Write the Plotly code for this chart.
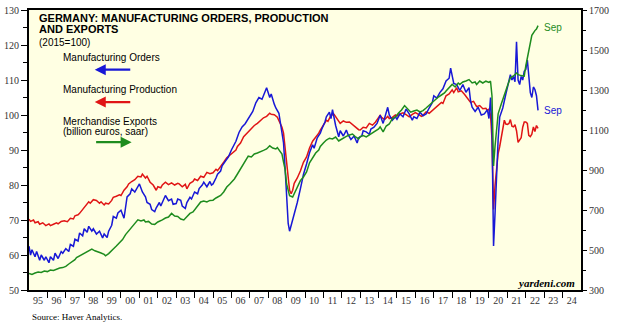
import plotly.graph_objects as go

# ---------------- data ----------------
orders_dates = [
    "1995-01","1995-02","1995-03","1995-05","1995-06","1995-08","1995-09","1995-11","1995-12",
    "1996-02","1996-03","1996-05","1996-06","1996-08","1996-10","1996-11",
    "1997-01","1997-03","1997-04","1997-06","1997-07","1997-09","1997-10","1997-12",
    "1998-01","1998-03","1998-04","1998-06","1998-07","1998-09","1998-11",
    "1999-01","1999-02","1999-04","1999-05","1999-07","1999-08","1999-10","1999-11",
    "2000-01","2000-03","2000-04","2000-05","2000-07","2000-08","2000-10","2000-12",
    "2001-01","2001-03","2001-05","2001-06","2001-08","2001-09","2001-11","2001-12",
    "2002-02","2002-03","2002-05","2002-06","2002-08","2002-10","2002-11",
    "2003-01","2003-02","2003-04","2003-05","2003-07","2003-08","2003-10","2003-11",
    "2004-01","2004-03","2004-04","2004-06","2004-07","2004-09","2004-11","2004-12",
    "2005-01","2005-03","2005-04","2005-06","2005-07","2005-09","2005-11",
    "2006-01","2006-02","2006-04","2006-06","2006-08","2006-10","2006-12",
    "2007-01","2007-03","2007-05","2007-07","2007-09","2007-11","2007-12",
    "2008-02","2008-03","2008-05","2008-06","2008-08","2008-09","2008-10","2008-11","2008-12",
    "2009-01","2009-02","2009-03","2009-04","2009-05","2009-07","2009-08","2009-10","2009-12",
    "2010-02","2010-04","2010-06","2010-07","2010-09","2010-11","2010-12",
    "2011-02","2011-03","2011-05","2011-06","2011-07","2011-09","2011-11","2011-12",
    "2012-02","2012-04","2012-05","2012-07","2012-09","2012-11","2012-12",
    "2013-02","2013-03","2013-05","2013-07","2013-08","2013-10","2013-12",
    "2014-02","2014-04","2014-05","2014-07","2014-08","2014-10","2014-12",
    "2015-01","2015-03","2015-05","2015-07","2015-09","2015-11","2015-12",
    "2016-02","2016-04","2016-06","2016-08","2016-10","2016-12",
    "2017-01","2017-03","2017-05","2017-07","2017-09","2017-11","2017-12",
    "2018-01","2018-02","2018-04","2018-06","2018-08","2018-10","2018-12",
    "2019-01","2019-02","2019-04","2019-06","2019-08","2019-10","2019-12",
    "2020-01","2020-02","2020-03","2020-04","2020-05","2020-06","2020-07","2020-08","2020-10","2020-12",
    "2021-01","2021-03","2021-04","2021-05","2021-06","2021-07","2021-08","2021-09","2021-10","2021-11","2021-12",
    "2022-01","2022-02","2022-03","2022-04","2022-05","2022-06","2022-07","2022-08","2022-09"]
orders_vals = [
    62.5,60,61.5,59.5,61,58.5,60,58.5,59.5,
    57.8,59.5,58.5,60.5,59,61,60.5,
    61.8,61,63,62.5,64.5,64,66.3,65.5,
    67.5,66.5,68.2,66.8,67.5,66,66.8,
    64.9,66,65,66.8,68.5,71,70.5,72,
    72.8,70.5,74,76.6,77.5,78.9,78,79.5,
    80.3,78,76.6,75,74.5,73,72.4,73.5,
    75,74,76,77,75.5,76,74.5,
    74.7,76,75.6,74,73.3,75,76.5,76,
    78,77.5,79,80,80.8,79.5,81,80,
    80.3,82,83.1,84,85.5,86.8,88,
    90,91,92.5,95,96.6,97.5,99,
    99.4,101,103.5,105,104.5,106.5,107.8,
    105,106,103.1,102,100.5,97.6,95,92,85,
    75,69,66.8,68.5,69.6,73,75,78.9,83,
    86,89.2,91.5,90.5,93.5,94.8,96,
    98,99.5,100.8,99,101.5,97,93.8,95.5,
    94,95.7,94.5,93,94,92,93.5,
    94,95.5,95.2,94.5,96,96.5,97.6,
    99.9,97.6,99,102.2,100,98.5,99.5,
    98.8,100.3,99.5,101.7,100.3,98.5,99.5,
    99,100.8,99.8,100.3,102,103.5,
    105.5,104.8,106.4,107.5,109.7,110.5,113.4,
    111,109,108.7,107,108.7,106.5,107.8,
    104,102.2,101,102.2,100,100.3,101.5,
    99,105,96,62.6,72,85.4,93,99.4,102,106,
    108,111.5,110,111,109.5,120.9,110,108.7,111,110,112.5,
    113,115.7,111,106.4,105,108,107.3,105.5,101.3]

prod_dates = [
    "1995-01","1995-02","1995-04","1995-05","1995-07","1995-08","1995-10","1995-12",
    "1996-02","1996-03","1996-05","1996-07","1996-08","1996-10","1996-12",
    "1997-02","1997-04","1997-06","1997-07","1997-09","1997-10","1997-12",
    "1998-02","1998-04","1998-05","1998-07","1998-09","1998-11","1998-12",
    "1999-02","1999-03","1999-05","1999-07","1999-08","1999-10","1999-12",
    "2000-01","2000-03","2000-05","2000-06","2000-08","2000-10","2000-12",
    "2001-02","2001-03","2001-05","2001-06","2001-08","2001-10","2001-12",
    "2002-01","2002-03","2002-04","2002-06","2002-08","2002-10","2002-12",
    "2003-02","2003-03","2003-05","2003-07","2003-08","2003-10","2003-12",
    "2004-01","2004-03","2004-05","2004-07","2004-09","2004-11",
    "2005-01","2005-03","2005-04","2005-06","2005-08","2005-10","2005-12",
    "2006-02","2006-04","2006-05","2006-07","2006-09","2006-11",
    "2007-01","2007-03","2007-04","2007-06","2007-08","2007-10","2007-12",
    "2008-02","2008-03","2008-05","2008-07","2008-08","2008-09","2008-10","2008-11","2008-12",
    "2009-01","2009-02","2009-03","2009-04","2009-05","2009-06","2009-08","2009-10","2009-12",
    "2010-02","2010-04","2010-06","2010-08","2010-10","2010-11",
    "2011-01","2011-03","2011-04","2011-06","2011-08","2011-10","2011-12",
    "2012-02","2012-04","2012-06","2012-08","2012-10","2012-12",
    "2013-01","2013-03","2013-05","2013-07","2013-09","2013-11",
    "2014-02","2014-03","2014-05","2014-07","2014-08","2014-10","2014-12",
    "2015-01","2015-03","2015-05","2015-07","2015-09","2015-11",
    "2016-01","2016-03","2016-05","2016-06","2016-08","2016-10","2016-12",
    "2017-02","2017-04","2017-06","2017-07","2017-09","2017-11",
    "2018-01","2018-02","2018-04","2018-05","2018-07","2018-09","2018-11",
    "2019-01","2019-03","2019-05","2019-07","2019-09","2019-11","2019-12",
    "2020-01","2020-02","2020-03","2020-04","2020-05","2020-06","2020-07","2020-08","2020-10","2020-11","2020-12",
    "2021-01","2021-02","2021-03","2021-04","2021-05","2021-06","2021-07","2021-08","2021-09","2021-10","2021-11","2021-12",
    "2022-01","2022-02","2022-03","2022-04","2022-05","2022-06","2022-07","2022-08","2022-09"]
prod_vals = [
    70.2,69.6,70,69.2,69.5,68.8,69.2,68.4,
    68.9,68.4,68.8,69.2,68.9,69.6,69.8,
    69.5,70.5,70.3,71.2,71.5,71.9,73,
    74.2,75.2,74.8,75.8,75.6,74.8,75.2,
    74.3,74.8,74.6,75.6,76.5,76.8,77.2,
    77,78.5,79.5,80.3,81,81.5,82.5,
    82.3,83.1,82,82.5,80.8,80,78.5,
    79.5,79.2,80,80.8,80.1,80.6,80,
    80.5,80.3,79.5,80.2,78.9,80.5,81,
    81.7,81.3,82.5,82.2,83.6,83.2,
    83.5,84.5,84.1,85.2,86.5,87.8,88.5,
    89.3,90,91,92,93.8,94.8,
    95.5,96.5,97,97.6,98.5,99.2,99.6,
    100.5,100.2,100.1,99.4,98.5,97.8,96.5,94.8,90.5,
    86.4,80.5,78.5,77.5,78.5,80.5,82,84,86.5,
    88,90.6,92.5,93.5,94.8,95.7,
    97,98.5,98.2,99.9,100.2,98.8,97.6,
    98.3,97.9,98,97.2,96.5,95.8,
    95.7,96.5,96.3,97.6,97.1,98,
    99.9,99.3,98.7,99.6,99,99.3,100,
    99.7,100.3,100.6,100.1,99.5,100.2,
    100.7,100.2,99.6,99.9,100.9,100.5,101.3,
    102.2,102.8,103.6,103.3,105.5,106,
    107.2,106.4,107.8,106.6,106.9,105.9,104.8,
    103.6,103.9,102.4,102.7,101.8,101.9,101.3,
    101.7,100,93,73,80,86,89,91,96.5,98.5,97.4,
    97.3,97.6,98.7,96.8,96.6,97.2,95.5,92.2,92.9,93.5,96.5,98,
    98,97.6,94.2,93.8,94.5,96.6,95.3,97,96.2]

exports_dates = [
    "1995-01","1995-03","1995-05","1995-07","1995-09","1995-11",
    "1996-01","1996-03","1996-05","1996-07","1996-09","1996-11",
    "1997-01","1997-03","1997-05","1997-07","1997-08","1997-10","1997-12",
    "1998-02","1998-04","1998-06","1998-08","1998-10","1998-12",
    "1999-02","1999-03","1999-05","1999-07","1999-08","1999-10","1999-12",
    "2000-02","2000-04","2000-06","2000-08","2000-10","2000-12",
    "2001-02","2001-04","2001-05","2001-07","2001-09","2001-11",
    "2002-01","2002-03","2002-04","2002-06","2002-08","2002-10","2002-12",
    "2003-02","2003-04","2003-06","2003-08","2003-10","2003-12",
    "2004-02","2004-04","2004-05","2004-07","2004-09","2004-11",
    "2005-01","2005-03","2005-05","2005-06","2005-08","2005-10","2005-12",
    "2006-02","2006-03","2006-05","2006-07","2006-09","2006-11","2006-12",
    "2007-02","2007-04","2007-06","2007-08","2007-10","2007-12",
    "2008-02","2008-04","2008-06","2008-07","2008-09","2008-10","2008-11","2008-12",
    "2009-01","2009-02","2009-03","2009-05","2009-06","2009-08","2009-10","2009-12",
    "2010-02","2010-04","2010-06","2010-08","2010-10","2010-11",
    "2011-01","2011-03","2011-05","2011-07","2011-09","2011-11","2011-12",
    "2012-02","2012-04","2012-06","2012-08","2012-10","2012-12",
    "2013-01","2013-03","2013-05","2013-07","2013-09","2013-11",
    "2014-01","2014-02","2014-04","2014-06","2014-08","2014-10","2014-12",
    "2015-02","2015-04","2015-06","2015-08","2015-10","2015-12",
    "2016-02","2016-04","2016-06","2016-08","2016-10","2016-12",
    "2017-02","2017-04","2017-06","2017-08","2017-09","2017-11",
    "2018-01","2018-03","2018-05","2018-06","2018-08","2018-10","2018-12",
    "2019-02","2019-04","2019-05","2019-07","2019-09","2019-11",
    "2020-01","2020-02","2020-03","2020-04","2020-05","2020-06","2020-07","2020-09","2020-11","2020-12",
    "2021-01","2021-03","2021-05","2021-07","2021-08","2021-10","2021-12",
    "2022-01","2022-02","2022-03","2022-04","2022-05","2022-07","2022-08","2022-09"]
exports_vals = [
    383,378,385,390,388,395,
    392,400,398,405,410,412,
    418,430,440,452,462,471,478,
    490,498,504,496,492,485,
    478,471,482,495,505,520,535,
    552,577,595,612,630,651,
    645,650,640,643,630,628,
    640,645,651,660,665,683,670,
    668,655,650,665,683,690,
    710,725,740,745,740,748,
    749,760,770,773,790,815,830,
    848,855,880,905,930,955,969,
    965,980,985,990,998,1005,
    1021,1010,1005,1012,994,980,940,904,
    830,790,772,765,780,810,847,865,
    890,936,960,985,1000,1018,
    1035,1050,1059,1055,1065,1045,1050,
    1060,1068,1075,1080,1065,1055,
    1067,1072,1065,1075,1085,1095,
    1105,1116,1091,1120,1130,1157,1165,
    1185,1200,1222,1205,1189,1195,
    1200,1190,1197,1210,1225,1240,
    1254,1265,1275,1285,1295,1310,
    1328,1315,1335,1328,1340,1345,1352,
    1335,1340,1328,1345,1335,1344,
    1338,1344,1270,920,1020,1120,1181,1230,1279,1300,
    1320,1361,1370,1385,1377,1372,1369,
    1420,1460,1508,1545,1573,1597,1605,1622]

years = list(range(1995, 2025))
year_labels = [f"{y % 100:02d}" for y in years]

BLUE = "#1818D6"
RED = "#E01515"
GREEN = "#1E8C1E"

# ---------------- layout helpers ----------------
L, R, T, B = 27, 581, 4, 290
W, H = 620, 331
def px(x):
    return (x - L) / (R - L)
def py(y):
    return (B - y) / (B - T)

fig = go.Figure()
fig.add_trace(go.Scatter(x=prod_dates, y=prod_vals, mode="lines",
                         line=dict(color=RED, width=1.5), name="Manufacturing Production"))
fig.add_trace(go.Scatter(x=orders_dates, y=orders_vals, mode="lines",
                         line=dict(color=BLUE, width=1.5), name="Manufacturing Orders"))
fig.add_trace(go.Scatter(x=exports_dates, y=exports_vals, mode="lines", yaxis="y2",
                         line=dict(color=GREEN, width=1.5), name="Merchandise Exports"))

tickfont = dict(family="Liberation Serif", size=10, color="#333333")
sans = "Liberation Sans"

fig.update_layout(
    width=W, height=H,
    margin=dict(l=L, r=W - R, t=T, b=H - B, pad=0),
    paper_bgcolor="white", plot_bgcolor="#FFFFE3",
    showlegend=False,
    xaxis=dict(type="date", range=["1995-01-01", "2025-01-01"],
               tickmode="array",
               tickvals=[f"{y}-07-01" for y in years], ticktext=year_labels,
               ticks="", tickfont=tickfont, showgrid=False, zeroline=False,
               showline=True, linecolor="black", linewidth=2, mirror=True,
               minor=dict(tickmode="array", tickvals=[f"{y}-01-01" for y in years[1:]],
                          ticks="outside", ticklen=6, tickcolor="black", tickwidth=1, showgrid=False)),
    yaxis=dict(range=[50, 130], dtick=10, tick0=50, ticks="outside", ticklen=6, tickcolor="black",
               tickfont=tickfont, showgrid=False, zeroline=False,
               showline=True, linecolor="black", linewidth=2, mirror=True,
               minor=dict(dtick=5, ticks="outside", ticklen=4, tickcolor="black", showgrid=False)),
    yaxis2=dict(range=[300, 1700], dtick=200, tick0=300, overlaying="y", side="right",
                ticks="outside", ticklen=5, tickcolor="black",
                tickfont=tickfont, showgrid=False, zeroline=False, showline=False,
                minor=dict(dtick=100, ticks="outside", ticklen=4, tickcolor="black", showgrid=False)),
)

ann = []
def text(x, y, s, size=10, color="black", bold=False, family=sans, xanchor="left"):
    ann.append(dict(x=px(x), y=py(y), xref="paper", yref="paper", text=(f"<b>{s}</b>" if bold else s),
                    showarrow=False, xanchor=xanchor, yanchor="middle",
                    font=dict(family=family, size=size, color=color)))

text(35, 12, "GERMANY: MANUFACTURING ORDERS, PRODUCTION", size=11, bold=True)
text(35, 23.5, "AND EXPORTS", size=11, bold=True)
text(35, 37, "(2015=100)", size=10)
text(59, 53, "Manufacturing Orders", size=10)
text(59, 85, "Manufacturing Production", size=10)
text(59, 118, "Merchandise Exports", size=10)
text(59, 128.5, "(billion euros, saar)", size=10)

def arrow(x_head, x_tail, y, color):
    ann.append(dict(x=px(x_head), y=py(y), xref="paper", yref="paper", text="",
                    showarrow=True, ax=x_tail - x_head, ay=0, axref="pixel", ayref="pixel",
                    arrowhead=2, arrowsize=1, arrowwidth=2.2, arrowcolor=color))
arrow(93, 130, 65, BLUE)
arrow(93, 130, 98, RED)
arrow(130, 93, 139, GREEN)

ann.append(dict(x=exports_dates[-1], y=exports_vals[-1], xref="x", yref="y2", text="Sep",
                showarrow=False, xanchor="left", yanchor="middle", xshift=4, yshift=-2,
                font=dict(family=sans, size=10, color=GREEN)))
ann.append(dict(x=orders_dates[-1], y=orders_vals[-1], xref="x", yref="y", text="Sep",
                showarrow=False, xanchor="left", yanchor="middle", xshift=4, yshift=0,
                font=dict(family=sans, size=10, color=BLUE)))

ann.append(dict(x=px(577), y=py(283), xref="paper", yref="paper", text="<b><i>yardeni.com</i></b>",
                showarrow=False, xanchor="right", yanchor="middle",
                font=dict(family="Liberation Serif", size=11, color="black")))
ann.append(dict(x=px(28), y=py(318), xref="paper", yref="paper", text="Source: Haver Analytics.",
                showarrow=False, xanchor="left", yanchor="middle",
                font=dict(family="Liberation Serif", size=9, color="black")))

fig.update_layout(annotations=ann)
fig.write_html("out.html")
